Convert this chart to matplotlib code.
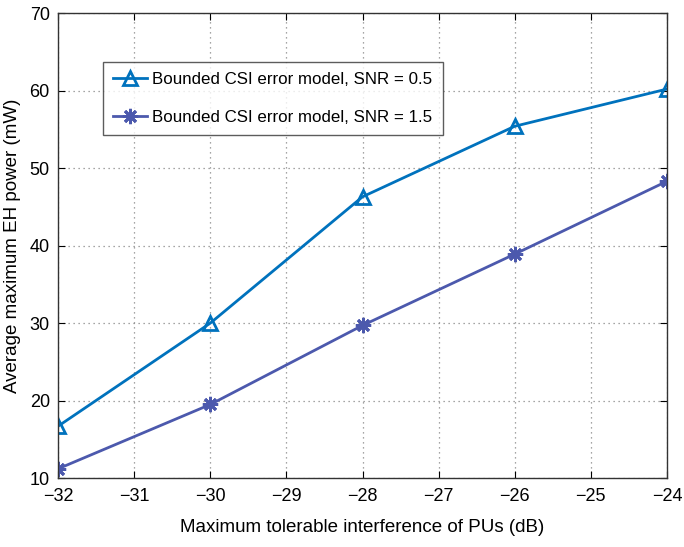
import matplotlib
matplotlib.use("Agg")
import matplotlib.pyplot as plt

plt.rcParams["font.family"] = ["Liberation Sans", "DejaVu Sans"]

# interference threshold (dB)
interference = [-32, -30, -28, -26, -24]
# average maximum EH power (mW)
power_snr_05 = [16.7, 30.0, 46.3, 55.4, 60.2]
power_snr_15 = [11.2, 19.5, 29.7, 38.9, 48.3]

fig = plt.figure(figsize=(6.84, 5.47), dpi=100)
ax = fig.add_axes([0.085, 0.126, 0.89, 0.85])

ax.plot(interference, power_snr_05, color="#0072BD", linewidth=2,
        marker="^", markersize=10, markerfacecolor="none",
        markeredgewidth=2, label="Bounded CSI error model, SNR = 0.5")
ax.plot(interference, power_snr_15, color="#4C59AD", linewidth=2,
        marker=(8, 2, 0), markersize=11, markeredgewidth=2,
        label="Bounded CSI error model, SNR = 1.5")

ax.set_xlim(-32, -24)
ax.set_ylim(10, 70)
ax.set_xticks(range(-32, -23))
ax.set_xticklabels([f"\u2212{abs(v)}" for v in range(-32, -23)])
ax.set_yticks(range(10, 71, 10))

ax.grid(True, linestyle=(0, (1, 3)), color="#888888", linewidth=0.9)
ax.tick_params(direction="in", top=True, right=True, labelsize=13, length=5)
ax.tick_params(axis="x", pad=7)
ax.tick_params(axis="y", pad=6)
for s in ax.spines.values():
    s.set_linewidth(1.0)
    s.set_color("#333333")

ax.set_xlabel("Maximum tolerable interference of PUs (dB)", fontsize=13.5, labelpad=10)
ax.set_ylabel("Average maximum EH power (mW)", fontsize=13.5, labelpad=6)

leg = ax.legend(loc="upper left", bbox_to_anchor=(0.074, 0.895), fontsize=12.2,
                frameon=True, fancybox=False, edgecolor="#333333",
                handlelength=2.0, handletextpad=0.3, borderpad=0.6,
                labelspacing=1.35, borderaxespad=0)
leg.get_frame().set_linewidth(1.0)

fig.savefig("out.png", dpi=100)
